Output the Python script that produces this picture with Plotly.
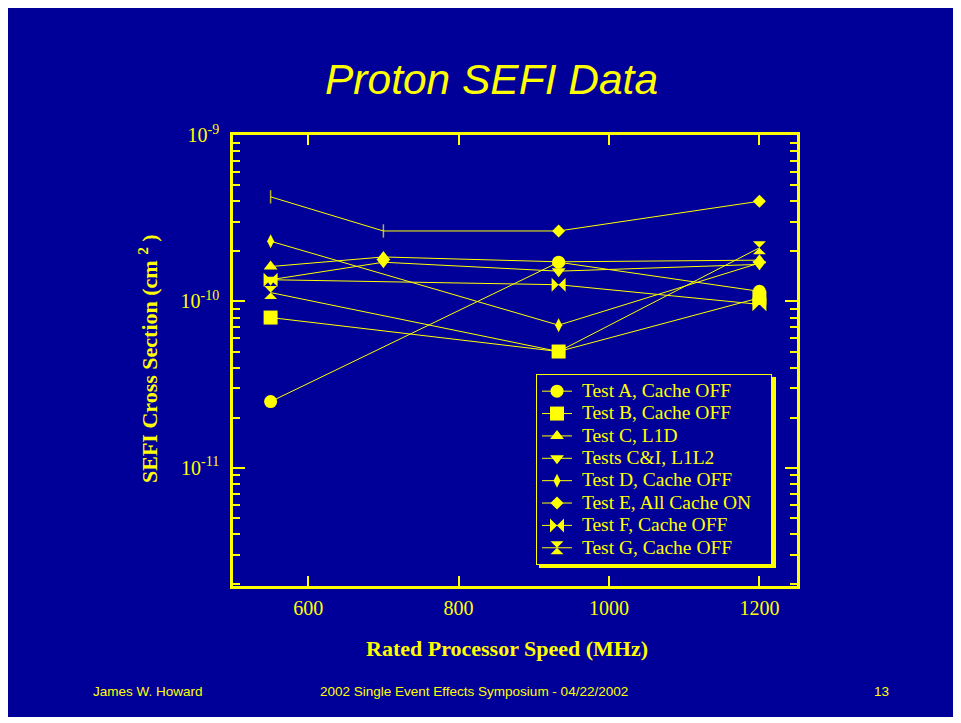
import plotly.graph_objects as go

# ---------------- data ----------------
speeds_a = [550, 933, 1200]
sefi_a = [2.5e-11, 1.72e-10, 1.15e-10]

speeds_b = [550, 933, 1200]
sefi_b = [8.0e-11, 5.0e-11, 1.05e-10]

speeds_c = [550, 700, 933, 1200]
sefi_c = [1.62e-10, 1.85e-10, 1.73e-10, 1.77e-10]

speeds_ci = [550, 700, 933, 1200]
sefi_ci = [1.35e-10, 1.72e-10, 1.52e-10, 1.67e-10]

speeds_d = [550, 933, 1200]
sefi_d = [2.3e-10, 7.2e-11, 1.70e-10]

speeds_e = [933, 1200]
sefi_e = [2.65e-10, 4.0e-10]

speeds_extra = [550, 700, 933]
sefi_extra = [4.25e-10, 2.65e-10, 2.65e-10]

speeds_f = [550, 933, 1200]
sefi_f = [1.35e-10, 1.26e-10, 9.6e-11]

speeds_g = [550, 933, 1200]
sefi_g = [1.13e-10, 5.0e-11, 2.1e-10]

names = ["Test A, Cache OFF", "Test B, Cache OFF", "Test C, L1D", "Tests C&I, L1L2",
         "Test D, Cache OFF", "Test E, All Cache ON", "Test F, Cache OFF", "Test G, Cache OFF"]

x_ticks = [600, 800, 1000, 1200]
y_major = [1e-11, 1e-10, 1e-9]
y_major_text = ["10<sup>-11</sup>", "10<sup>-10</sup>", "10<sup>-9</sup>"]
y_minor = [k * 10.0 ** e for e in (-12, -11, -10) for k in range(2, 10)]

# ---------------- style ----------------
NAVY = "#000099"
YEL = "#FFFF00"
SERIF = "Liberation Serif, Times New Roman, serif"
SANS = "Liberation Sans, Arial, sans-serif"

series = [
    (speeds_a, sefi_a, "circle", 13),
    (speeds_b, sefi_b, "square", 14),
    (speeds_c, sefi_c, "triangle-up", 12),
    (speeds_ci, sefi_ci, "triangle-down", 12),
    (speeds_d, sefi_d, "diamond-tall", 10),
    (speeds_e, sefi_e, "diamond", 10),
    (speeds_f, sefi_f, "bowtie", 14),
    (speeds_g, sefi_g, "hourglass", 13),
]

fig = go.Figure()

fig.add_trace(go.Scatter(
    x=speeds_extra, y=sefi_extra, mode="lines+markers", showlegend=False,
    line=dict(color=YEL, width=1),
    marker=dict(symbol="line-ns", size=[9.5, 9.5, 0], color=YEL,
                line=dict(color=YEL, width=1.5)),
    hoverinfo="skip"))

for (xs, ys, sym, sz), nm in zip(series, names):
    fig.add_trace(go.Scatter(
        x=xs, y=ys, mode="lines+markers",
        name="<span style='font-size:19.5px'>&nbsp;" + nm + "&nbsp;&nbsp;&nbsp;</span>",
        line=dict(color=YEL, width=1),
        marker=dict(symbol=sym, size=sz, color=YEL, line=dict(width=0)),
        hoverinfo="skip"))

# page offset (body margin) and figure size
OX, OY = 8, 8
W, H = 945, 709
L, T = 233 - OX, 135 - OY
R = W - (797 - OX)
B = H - (586 - OY)
pw, ph = W - L - R, H - T - B


def px(xs):
    return (xs - OX - L) / pw


def py(ys):
    return (H - B - (ys - OY)) / ph


fig.update_layout(
    width=W, height=H,
    margin=dict(l=L, r=R, t=T, b=B, pad=0),
    paper_bgcolor=NAVY, plot_bgcolor=NAVY,
    font=dict(family=SERIF, color=YEL, size=20),
    xaxis=dict(
        range=[500, 1250], tickmode="array", tickvals=x_ticks,
        ticks="inside", ticklen=10, tickwidth=1.5, tickcolor=YEL,
        showline=True, linecolor=YEL, linewidth=2.5, mirror="ticks",
        showgrid=False, zeroline=False,
        tickfont=dict(family=SERIF, size=20, color=YEL),
        ticklabelstandoff=2,
    ),
    yaxis=dict(
        type="log", range=[-11.71, -9], tickmode="array",
        tickvals=y_major, ticktext=y_major_text,
        ticks="inside", ticklen=12, tickwidth=1.5, tickcolor=YEL,
        minor=dict(tickmode="array", tickvals=y_minor, ticks="inside",
                   ticklen=7, tickwidth=1.5, tickcolor=YEL, showgrid=False),
        showline=True, linecolor=YEL, linewidth=2.5, mirror="ticks",
        showgrid=False, zeroline=False,
        tickfont=dict(family=SERIF, size=20, color=YEL),
        ticklabelstandoff=7,
    ),
    legend=dict(
        x=px(536), y=py(374), xanchor="left", yanchor="top",
        bgcolor=NAVY, bordercolor=YEL, borderwidth=1,
        font=dict(family=SERIF, size=14.9, color=YEL),
        itemclick=False, itemdoubleclick=False,
    ),
    showlegend=True,
)

annotations = [
    dict(text="<i>Proton SEFI Data</i>", x=px(491), y=py(80), xref="paper", yref="paper",
         showarrow=False, xanchor="center", yanchor="middle",
         font=dict(family=SANS, size=42.5, color=YEL)),
    dict(text="<b>Rated Processor Speed (MHz)</b>", x=px(507), y=py(648), xref="paper",
         yref="paper", showarrow=False, xanchor="center", yanchor="middle",
         font=dict(family=SERIF, size=22, color=YEL)),
    dict(text="<b>SEFI Cross Section (cm <sup>2</sup> )</b>", x=px(148), y=py(359),
         xref="paper", yref="paper", showarrow=False, xanchor="center", yanchor="middle",
         textangle=-90, font=dict(family=SERIF, size=22, color=YEL)),
    dict(text="James W. Howard", x=px(91), y=py(691), xref="paper", yref="paper",
         showarrow=False, xanchor="left", yanchor="middle",
         font=dict(family=SANS, size=13.5, color=YEL)),
    dict(text="2002 Single Event Effects Symposium - 04/22/2002", x=px(474), y=py(691),
         xref="paper", yref="paper", showarrow=False, xanchor="center", yanchor="middle",
         font=dict(family=SANS, size=13.5, color=YEL)),
    dict(text="13", x=px(881), y=py(691), xref="paper", yref="paper",
         showarrow=False, xanchor="center", yanchor="middle",
         font=dict(family=SANS, size=13.5, color=YEL)),
]
fig.update_layout(annotations=annotations)

# legend drop shadow
fig.add_shape(type="rect", xref="paper", yref="paper",
              x0=px(539), x1=px(776), y0=py(568), y1=py(377),
              fillcolor=YEL, line=dict(width=0), layer="below")

fig.write_html("out.html")
